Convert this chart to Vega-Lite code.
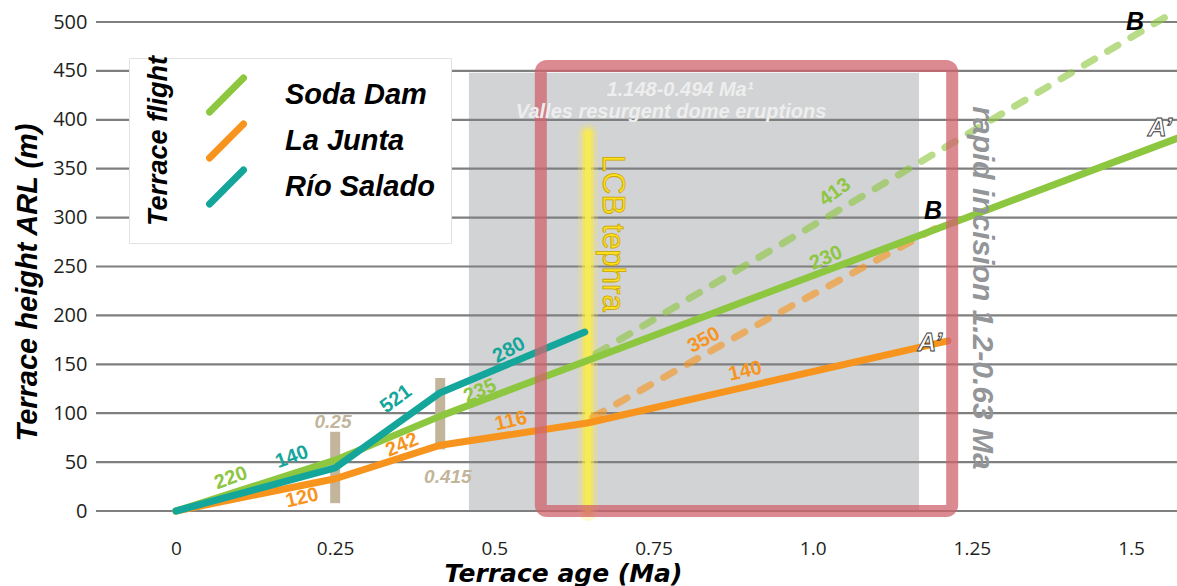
{
  "$schema": "https://vega.github.io/schema/vega-lite/v6.json",
  "width": 1081,
  "height": 511,
  "autosize": {"type": "none"},
  "padding": {"left": 96, "top": 0, "right": 0, "bottom": 75},
  "background": "white",
  "config": {"view": {"stroke": null}, "font": "Liberation Sans"},
  "resolve": {"legend": {"color": "independent"}},
  "datasets": {
    "solid": [
      {"flight": "La Junta", "age": 0, "height": 0},
      {"flight": "La Junta", "age": 0.25, "height": 33},
      {"flight": "La Junta", "age": 0.415, "height": 67.3},
      {"flight": "La Junta", "age": 0.646, "height": 90},
      {"flight": "La Junta", "age": 1.2125, "height": 174},
      {"flight": "Soda Dam", "age": 0, "height": 0},
      {"flight": "Soda Dam", "age": 0.25, "height": 52},
      {"flight": "Soda Dam", "age": 0.415, "height": 97},
      {"flight": "Soda Dam", "age": 1.5721, "height": 381}
    ],
    "salado": [
      {"flight": "Río Salado", "age": 0, "height": 0},
      {"flight": "Río Salado", "age": 0.25, "height": 44},
      {"flight": "Río Salado", "age": 0.415, "height": 121},
      {"flight": "Río Salado", "age": 0.642, "height": 183}
    ],
    "projected": [
      {"flight": "Soda Dam", "age": 0.66, "height": 161},
      {"flight": "Soda Dam", "age": 1.5721, "height": 512},
      {"flight": "La Junta", "age": 0.655, "height": 96},
      {"flight": "La Junta", "age": 0.9377, "height": 199.4},
      {"flight": "La Junta", "age": 1.211, "height": 295.5}
    ],
    "grid": [
      {"height": 0}, {"height": 50}, {"height": 100}, {"height": 150}, {"height": 200}, {"height": 250},
      {"height": 300}, {"height": 350}, {"height": 400}, {"height": 450}, {"height": 500}
    ],
    "tephra": [{"age": 0.647, "height": 0, "height_end": 386}]
  },
  "layer": [
    {
      "data": {"values": [{"age": 0.46, "age_end": 1.167, "height": 0, "height_end": 448}]},
      "mark": {"type": "rect", "fill": "#d1d3d4"},
      "encoding": {
        "x": {
          "field": "age", "type": "quantitative",
          "scale": {"domain": [-0.1256, 1.5721], "nice": false, "zero": false},
          "axis": {
            "values": [0, 0.25, 0.5, 0.75, 1, 1.25, 1.5],
            "labelExpr": "datum.value === 1 ? '1.0' : format(datum.value, '')",
            "grid": false, "domain": false, "ticks": false,
            "labelFont": "Open Sans", "labelFontSize": 19, "labelColor": "#231f20",
            "labelPadding": 28, "labelFlush": false, "labelOverlap": false,
            "title": "Terrace age (Ma)",
            "titleFont": "DejaVu Sans", "titleFontSize": 25, "titleFontWeight": "bold",
            "titleFontStyle": "italic", "titleColor": "black",
            "titleX": 467, "titleY": 70, "titleBaseline": "alphabetic", "titleAlign": "center"
          }
        },
        "x2": {"field": "age_end"},
        "y": {
          "field": "height", "type": "quantitative",
          "scale": {"domain": [0, 522.5], "nice": false, "zero": false},
          "axis": {
            "values": [0, 50, 100, 150, 200, 250, 300, 350, 400, 450, 500],
            "grid": false, "domain": false, "ticks": false,
            "labelFont": "Open Sans", "labelFontSize": 20, "labelColor": "#231f20",
            "labelPadding": 9,
            "title": "Terrace height ARL (m)",
            "titleFont": "Liberation Sans", "titleFontSize": 29, "titleFontWeight": "bold",
            "titleFontStyle": "italic", "titleColor": "black",
            "titleX": -54, "titleY": 282, "titleAngle": 270, "titleBaseline": "bottom", "titleAlign": "center"
          }
        },
        "y2": {"field": "height_end"}
      }
    },
    {
      "data": {"name": "grid"},
      "mark": {"type": "rule", "color": "#7f7f7f", "strokeWidth": 2.2},
      "encoding": {"y": {"field": "height", "type": "quantitative"}}
    },
    {
      "data": {"name": "tephra"},
      "mark": {"type": "rule", "color": "#fbe94a", "strokeWidth": 20, "opacity": 0.25, "strokeCap": "round"},
      "encoding": {"x": {"field": "age", "type": "quantitative"}, "y": {"field": "height", "type": "quantitative"}, "y2": {"field": "height_end"}}
    },
    {
      "data": {"name": "tephra"},
      "mark": {"type": "rule", "color": "#fbe94a", "strokeWidth": 12, "opacity": 0.5, "strokeCap": "round"},
      "encoding": {"x": {"field": "age", "type": "quantitative"}, "y": {"field": "height", "type": "quantitative"}, "y2": {"field": "height_end"}}
    },
    {
      "data": {"name": "tephra"},
      "mark": {"type": "rule", "color": "#f9ec4e", "strokeWidth": 6, "opacity": 0.9, "strokeCap": "round"},
      "encoding": {"x": {"field": "age", "type": "quantitative"}, "y": {"field": "height", "type": "quantitative"}, "y2": {"field": "height_end"}}
    },
    {
      "data": {"values": [
        {"age": 0.25, "height": 8, "height_end": 81},
        {"age": 0.415, "height": 63, "height_end": 136}
      ]},
      "mark": {"type": "rule", "color": "#c2b59b", "strokeWidth": 10},
      "encoding": {"x": {"field": "age", "type": "quantitative"}, "y": {"field": "height", "type": "quantitative"}, "y2": {"field": "height_end"}}
    },
    {
      "data": {"name": "projected"},
      "mark": {"type": "line", "strokeWidth": 7, "strokeCap": "round", "strokeDash": [12, 15], "opacity": 0.62},
      "encoding": {
        "x": {"field": "age", "type": "quantitative"},
        "y": {"field": "height", "type": "quantitative"},
        "color": {"field": "flight", "type": "nominal", "legend": null}
      }
    },
    {
      "data": {"name": "solid"},
      "mark": {"type": "line", "strokeWidth": 7, "strokeCap": "round", "strokeJoin": "round"},
      "encoding": {
        "x": {"field": "age", "type": "quantitative"},
        "y": {"field": "height", "type": "quantitative"},
        "color": {
          "field": "flight", "type": "nominal",
          "scale": {"domain": ["Soda Dam", "La Junta", "Río Salado"], "range": ["#8dc63f", "#f7941d", "#14a69b"]},
          "legend": {
            "orient": "none", "legendX": 33, "legendY": 58,
            "title": "Terrace flight", "titleOrient": "left",
            "titleFont": "Liberation Sans", "titleFontSize": 27, "titleFontWeight": "bold",
            "titleFontStyle": "italic", "titleColor": "black", "titlePadding": 19,
            "titleAnchor": "middle", "titleLimit": 400, "titleAlign": "center", "titleBaseline": "middle",
            "symbolType": "M-1,1L1,-1", "symbolSize": 1150, "symbolStrokeWidth": 7,
            "clipHeight": 42,
            "labelFont": "Liberation Sans", "labelFontSize": 29, "labelFontWeight": "bold",
            "labelFontStyle": "italic", "labelColor": "black", "labelOffset": 38, "labelLimit": 300,
            "rowPadding": 4, "padding": 16, "fillColor": "white", "strokeColor": "#e2e2e2",
            "encode": {
              "symbols": {"update": {"strokeCap": {"value": "round"}}},
              "title": {"update": {"angle": {"value": 270}}}
            }
          }
        }
      }
    },
    {
      "data": {"name": "salado"},
      "mark": {"type": "line", "strokeWidth": 7, "strokeCap": "round", "strokeJoin": "round"},
      "encoding": {
        "x": {"field": "age", "type": "quantitative"},
        "y": {"field": "height", "type": "quantitative"},
        "color": {"field": "flight", "type": "nominal", "legend": null}
      }
    },
    {
      "data": {"values": [{"age": 0.573, "age_end": 1.219, "height": 0, "height_end": 455}]},
      "mark": {"type": "rect", "fill": null, "stroke": "#d0636e", "strokeWidth": 12, "strokeOpacity": 0.75, "cornerRadius": 6},
      "encoding": {
        "x": {"field": "age", "type": "quantitative"}, "x2": {"field": "age_end"},
        "y": {"field": "height", "type": "quantitative"}, "y2": {"field": "height_end"}
      }
    },
    {
      "data": {"values": [
        {"note": "1.148-0.494 Ma¹", "age": 0.7916, "height": 430},
        {"note": "Valles resurgent dome eruptions", "age": 0.7775, "height": 407.5}
      ]},
      "mark": {"type": "text", "font": "Liberation Sans", "fontSize": 20, "fontWeight": "bold", "fontStyle": "italic", "color": "#eeeeee"},
      "encoding": {"x": {"field": "age", "type": "quantitative"}, "y": {"field": "height", "type": "quantitative"}, "text": {"field": "note"}}
    },
    {
      "data": {"values": [{"note": "LCB tephra", "age": 0.6846, "height": 284}]},
      "mark": {"type": "text", "angle": 90, "font": "Liberation Sans", "fontSize": 31, "fill": "#ffe11f", "stroke": "#c9a400", "strokeWidth": 0.8},
      "encoding": {"x": {"field": "age", "type": "quantitative"}, "y": {"field": "height", "type": "quantitative"}, "text": {"field": "note"}}
    },
    {
      "data": {"values": [{"note": "rapid incision 1.2-0.63 Ma", "age": 1.266, "height": 228}]},
      "mark": {"type": "text", "angle": 90, "font": "Liberation Sans", "fontSize": 30, "fontWeight": "bold", "fontStyle": "italic", "color": "#939598"},
      "encoding": {"x": {"field": "age", "type": "quantitative"}, "y": {"field": "height", "type": "quantitative"}, "text": {"field": "note"}}
    },
    {
      "data": {"values": [
        {"note": "B", "age": 1.506, "height": 500},
        {"note": "B", "age": 1.189, "height": 306.7}
      ]},
      "mark": {"type": "text", "font": "Liberation Sans", "fontSize": 25, "fontWeight": "bold", "fontStyle": "italic", "color": "black"},
      "encoding": {"x": {"field": "age", "type": "quantitative"}, "y": {"field": "height", "type": "quantitative"}, "text": {"field": "note"}}
    },
    {
      "data": {"values": [
        {"note": "A’", "age": 1.5455, "height": 391.6},
        {"note": "A’", "age": 1.184, "height": 171.8}
      ]},
      "mark": {"type": "text", "font": "Liberation Sans", "fontSize": 26, "fontWeight": "bold", "fontStyle": "italic", "fill": "white", "stroke": "#3a3a3a", "strokeWidth": 0.9},
      "encoding": {"x": {"field": "age", "type": "quantitative"}, "y": {"field": "height", "type": "quantitative"}, "text": {"field": "note"}}
    },
    {
      "data": {"values": [
        {"note": "0.25", "age": 0.2466, "height": 91},
        {"note": "0.415", "age": 0.427, "height": 34.8}
      ]},
      "mark": {"type": "text", "font": "Liberation Sans", "fontSize": 19, "fontWeight": "bold", "fontStyle": "italic", "color": "#c2b59b"},
      "encoding": {"x": {"field": "age", "type": "quantitative"}, "y": {"field": "height", "type": "quantitative"}, "text": {"field": "note"}}
    },
    {
      "data": {"values": [
        {"flight": "Soda Dam", "rate": "220", "age": 0.0864, "height": 33.7},
        {"flight": "Río Salado", "rate": "140", "age": 0.182, "height": 55.2}
      ]},
      "mark": {"type": "text", "angle": -20, "font": "Liberation Sans", "fontSize": 20, "fontWeight": "bold"},
      "encoding": {"x": {"field": "age", "type": "quantitative"}, "y": {"field": "height", "type": "quantitative"}, "text": {"field": "rate"}, "color": {"field": "flight", "type": "nominal", "legend": null}}
    },
    {
      "data": {"values": [
        {"flight": "La Junta", "rate": "242", "age": 0.355, "height": 67.5},
        {"flight": "Soda Dam", "rate": "235", "age": 0.4775, "height": 122.7},
        {"flight": "Soda Dam", "rate": "230", "age": 1.021, "height": 258.7}
      ]},
      "mark": {"type": "text", "angle": -23, "font": "Liberation Sans", "fontSize": 20, "fontWeight": "bold"},
      "encoding": {"x": {"field": "age", "type": "quantitative"}, "y": {"field": "height", "type": "quantitative"}, "text": {"field": "rate"}, "color": {"field": "flight", "type": "nominal", "legend": null}}
    },
    {
      "data": {"values": [
        {"flight": "La Junta", "rate": "120", "age": 0.198, "height": 13.3},
        {"flight": "La Junta", "rate": "116", "age": 0.526, "height": 92},
        {"flight": "La Junta", "rate": "140", "age": 0.894, "height": 143}
      ]},
      "mark": {"type": "text", "angle": -13, "font": "Liberation Sans", "fontSize": 20, "fontWeight": "bold"},
      "encoding": {"x": {"field": "age", "type": "quantitative"}, "y": {"field": "height", "type": "quantitative"}, "text": {"field": "rate"}, "color": {"field": "flight", "type": "nominal", "legend": null}}
    },
    {
      "data": {"values": [
        {"flight": "Río Salado", "rate": "280", "age": 0.523, "height": 164.6},
        {"flight": "La Junta", "rate": "350", "age": 0.829, "height": 174.8}
      ]},
      "mark": {"type": "text", "angle": -28, "font": "Liberation Sans", "fontSize": 20, "fontWeight": "bold"},
      "encoding": {"x": {"field": "age", "type": "quantitative"}, "y": {"field": "height", "type": "quantitative"}, "text": {"field": "rate"}, "color": {"field": "flight", "type": "nominal", "legend": null}}
    },
    {
      "data": {"values": [
        {"flight": "Río Salado", "rate": "521", "age": 0.3455, "height": 114.5},
        {"flight": "Soda Dam", "rate": "413", "age": 1.035, "height": 326}
      ]},
      "mark": {"type": "text", "angle": -36, "font": "Liberation Sans", "fontSize": 20, "fontWeight": "bold"},
      "encoding": {"x": {"field": "age", "type": "quantitative"}, "y": {"field": "height", "type": "quantitative"}, "text": {"field": "rate"}, "color": {"field": "flight", "type": "nominal", "legend": null}}
    }
  ]
}
